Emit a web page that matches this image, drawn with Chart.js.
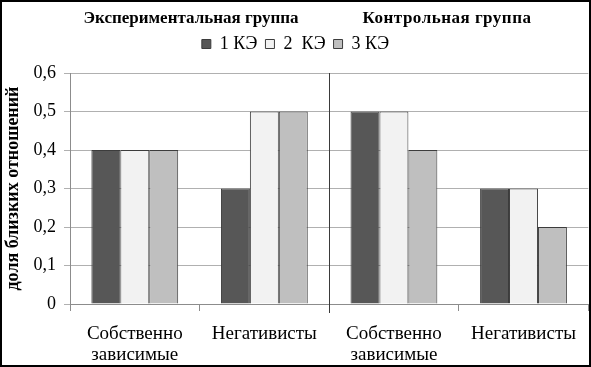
<!DOCTYPE html>
<html><head><meta charset="utf-8">
<script src="https://cdn.jsdelivr.net/npm/chart.js@4/dist/chart.umd.min.js"></script>
<style>
html,body{margin:0;padding:0;background:#fff;}
#wrap{position:relative;width:591px;height:367px;box-sizing:border-box;border:2px solid #000;background:#fff;font-family:'Liberation Serif';}
canvas{display:block;}
.gt{position:absolute;top:6px;font-weight:bold;font-size:17px;line-height:20px;color:#000;white-space:nowrap;transform:translateX(-50%);}
.ld{position:absolute;left:0;top:0;opacity:0;font-size:18px;}
</style></head><body>
<div id="wrap">
<div class="ld">0,6 Собственно</div>
<div class="gt" id="g0" style="left:189px"></div>
<div class="gt" id="g1" style="left:445px;letter-spacing:0.5px"></div>
<canvas id="c" width="587" height="363"></canvas>
</div>
<script>
const categories = [['Собственно','зависимые'], 'Негативисты', ['Собственно','зависимые'], 'Негативисты'];
const groupTitles = ['Экспериментальная группа', 'Контрольная группа'];
const seriesNames = ['1 КЭ', '2  КЭ', '3 КЭ'];
const series1 = [0.4, 0.3, 0.5, 0.3];
const series2 = [0.4, 0.5, 0.5, 0.3];
const series3 = [0.4, 0.5, 0.4, 0.2];
const yTicks = [0, 0.1, 0.2, 0.3, 0.4, 0.5, 0.6];

document.getElementById('g0').textContent = groupTitles[0];
document.getElementById('g1').textContent = groupTitles[1];

const SERIF = 'Liberation Serif';
Chart.defaults.font.family = SERIF;
const colors = ['#575757', '#f2f2f2', '#bfbfbf'];

const helper = {
  id: 'helper',
  beforeLayout(chart) {
    const lg = chart.legend;
    if (lg && !lg._patched) {
      const f = lg.fit.bind(lg);
      lg.fit = function () { f(); this.height += 10; };
      lg._patched = true;
    }
  },
  afterDraw(chart) {
    const ctx = chart.ctx, x = chart.scales.x, a = chart.chartArea;
    const mid = Math.round(x.getPixelForValue(1.5)) + 0.5;
    ctx.save();
    ctx.strokeStyle = '#3a3a3a';
    ctx.lineWidth = 1;
    ctx.beginPath();
    ctx.moveTo(mid, a.top);
    ctx.lineTo(mid, a.bottom + 9);
    ctx.stroke();
    ctx.restore();
  }
};

new Chart(document.getElementById('c'), {
  type: 'bar',
  data: {
    labels: categories,
    datasets: [series1, series2, series3].map((d, i) => ({
      label: seriesNames[i],
      data: d,
      backgroundColor: colors[i],
      borderColor: '#3c3c3c',
      borderWidth: 1,
      categoryPercentage: 0.67,
      barPercentage: 1
    }))
  },
  options: {
    responsive: false,
    animation: false,
    devicePixelRatio: 1,
    layout: { padding: { top: 25, right: 0, left: 0, bottom: 0 } },
    plugins: {
      legend: {
        position: 'top',
        labels: {
          boxWidth: 9, boxHeight: 9, padding: 8,
          color: '#000',
          font: { family: SERIF, size: 18 }
        }
      },
      tooltip: { enabled: false }
    },
    scales: {
      x: {
        afterFit(s) { s.height = 61; },
        grid: { drawOnChartArea: false, drawTicks: true, tickLength: 7, color: '#8c8c8c', offset: true },
        border: { color: '#8c8c8c' },
        ticks: { color: '#000', font: { family: SERIF, size: 19, lineHeight: 1.1 }, maxRotation: 0, autoSkip: false, padding: 13 }
      },
      y: {
        min: 0, max: 0.6,
        afterFit(s) { s.width = 68; },
        afterBuildTicks(s) { s.ticks = yTicks.map(v => ({ value: v })); },
        grid: { color: '#b0b0b0', tickLength: 6 },
        border: { color: '#8c8c8c' },
        ticks: { color: '#000', font: { family: SERIF, size: 18 }, padding: 8,
          callback: v => String(v).replace('.', ',') },
        title: { display: true, text: 'доля близких отношений', color: '#000',
          font: { family: SERIF, size: 18, weight: 'bold' }, padding: { top: 1, bottom: 0 } }
      }
    }
  },
  plugins: [helper]
});
</script>
</body></html>
